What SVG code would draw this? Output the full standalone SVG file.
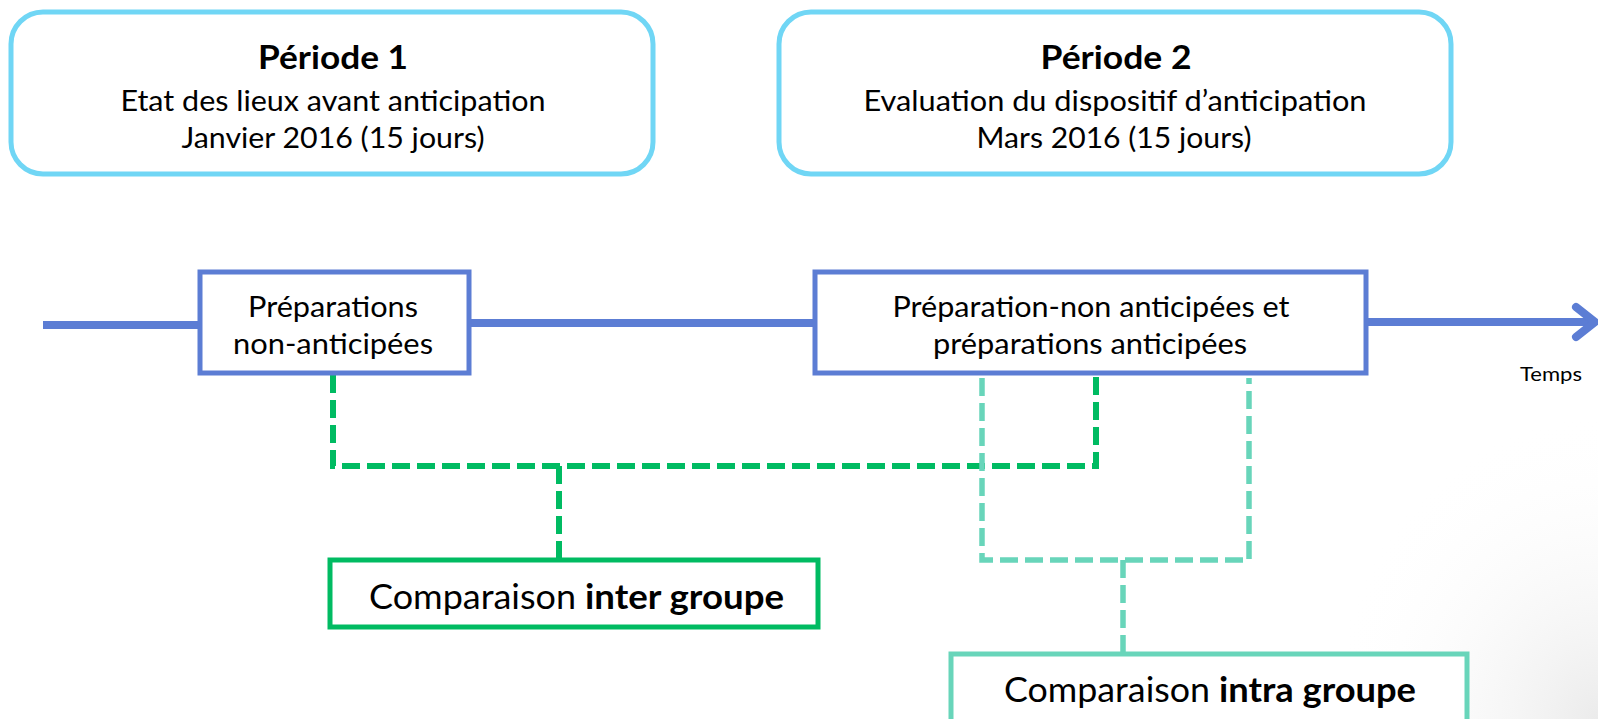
<svg xmlns="http://www.w3.org/2000/svg" width="1598" height="719" viewBox="0 0 1598 719">
<defs>
<style>
.per{fill:#fff;stroke:#70d6f5;stroke-width:5}
.blk{fill:#fff;stroke:#5c7dd4;stroke-width:5}
.t{font-family:Lato,"Liberation Sans",sans-serif;fill:#000;text-anchor:middle}
.b{font-weight:bold}
.tl{stroke:#5c7dd4;stroke-width:8;fill:none;stroke-linecap:butt}
.g{stroke:#00bb62;stroke-width:6;fill:none;stroke-dasharray:18 7}
.c{stroke:#68d5ba;stroke-width:5.5;fill:none;stroke-dasharray:18 7}
</style>
<radialGradient id="shade" cx="1.0" cy="1.0" r="0.9">
<stop offset="0" stop-color="#e6e6e6" stop-opacity="0.8"/>
<stop offset="1" stop-color="#ffffff" stop-opacity="0"/>
</radialGradient>
</defs>
<rect width="1598" height="719" fill="#fff"/>
<rect x="1300" y="380" width="298" height="339" fill="url(#shade)"/>

<g id="connectors">
<line class="tl" x1="43" y1="325" x2="200" y2="325"/>
<line class="tl" x1="469" y1="323" x2="815" y2="323"/>
<line class="tl" x1="1367" y1="322" x2="1594" y2="322"/>
<polyline points="1576,307 1595,322 1576,337" fill="none" stroke="#5c7dd4" stroke-width="8" stroke-linecap="round" stroke-linejoin="round"/>
<path class="g" d="M333,375 V466 H1096 V375"/>
<path class="g" d="M559,466 V560"/>
<path class="c" d="M982,378 V560 H1249 V378"/>
<path class="c" d="M1123,560 V654"/>
</g>

<g id="periode1">
<rect class="per" x="11" y="12" width="642" height="162" rx="32"/>
<text class="t b" x="333" y="69" font-size="32" textLength="150" lengthAdjust="spacingAndGlyphs">Période 1</text>
<text class="t" x="333" y="111" font-size="29" textLength="425" lengthAdjust="spacingAndGlyphs">Etat des lieux avant anticipation</text>
<text class="t" x="333" y="148" font-size="29" textLength="303" lengthAdjust="spacingAndGlyphs">Janvier 2016 (15 jours)</text>
</g>

<g id="periode2">
<rect class="per" x="779" y="12" width="672" height="162" rx="32"/>
<text class="t b" x="1116" y="69" font-size="32" textLength="151" lengthAdjust="spacingAndGlyphs">Période 2</text>
<text class="t" x="1115" y="111" font-size="29" textLength="503" lengthAdjust="spacingAndGlyphs">Evaluation du dispositif d’anticipation</text>
<text class="t" x="1114" y="148" font-size="29" textLength="275" lengthAdjust="spacingAndGlyphs">Mars 2016 (15 jours)</text>
</g>

<g id="prep1">
<rect class="blk" x="200" y="272" width="269" height="101"/>
<text class="t" x="333" y="317" font-size="29" textLength="170" lengthAdjust="spacingAndGlyphs">Préparations</text>
<text class="t" x="333" y="354" font-size="29" textLength="200" lengthAdjust="spacingAndGlyphs">non-anticipées</text>
</g>

<g id="prep2">
<rect class="blk" x="815" y="272" width="551" height="101"/>
<text class="t" x="1091" y="317" font-size="29" textLength="397" lengthAdjust="spacingAndGlyphs">Préparation-non anticipées et</text>
<text class="t" x="1090" y="354" font-size="29" textLength="314" lengthAdjust="spacingAndGlyphs">préparations anticipées</text>
</g>

<g id="temps">
<text class="t" x="1551" y="381" font-size="20" textLength="62" lengthAdjust="spacingAndGlyphs">Temps</text>
</g>

<g id="inter">
<rect x="330" y="560" width="488" height="67" fill="#fff" stroke="#00bb62" stroke-width="5"/>
<text class="t" x="369" y="609" font-size="35" style="text-anchor:start" textLength="207" lengthAdjust="spacingAndGlyphs">Comparaison</text>
<text class="t b" x="585" y="609" font-size="35" style="text-anchor:start" textLength="199" lengthAdjust="spacingAndGlyphs">inter groupe</text>
</g>

<g id="intra">
<rect x="951" y="654" width="516" height="80" fill="#fff" stroke="#68d5ba" stroke-width="5"/>
<text class="t" x="1004" y="702" font-size="35" style="text-anchor:start" textLength="206" lengthAdjust="spacingAndGlyphs">Comparaison</text>
<text class="t b" x="1219" y="702" font-size="35" style="text-anchor:start" textLength="197" lengthAdjust="spacingAndGlyphs">intra groupe</text>
</g>
</svg>
